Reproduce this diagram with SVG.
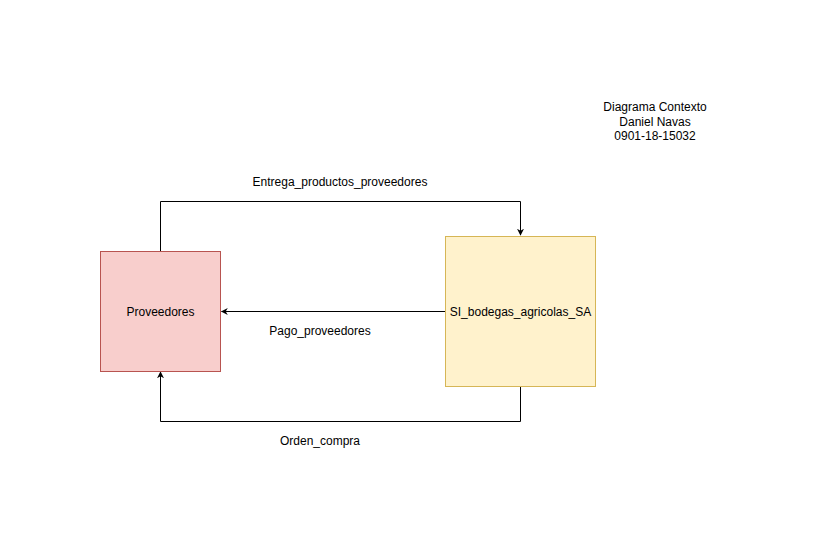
<svg xmlns="http://www.w3.org/2000/svg" width="831" height="552" viewBox="0 0 831 552">
<defs>
<style>
text{font-family:"Liberation Sans",Arial,Helvetica,sans-serif;font-size:12px;fill:#000;text-anchor:middle;dominant-baseline:central}
.edge{fill:none;stroke:#000;stroke-width:1}
</style>
<marker id="arr" viewBox="0 0 10 10" refX="9" refY="5" markerWidth="7" markerHeight="7" markerUnits="userSpaceOnUse" orient="auto">
<path d="M0,0 L10,5 L0,10 L3,5 Z" fill="#000"/>
</marker>
</defs>
<rect width="831" height="552" fill="#fff"/>
<g id="connectors">
<path class="edge" d="M160.5,251 V201.5 H520.5 V235" marker-end="url(#arr)"/>
<path class="edge" d="M445,311.5 H221.5" marker-end="url(#arr)"/>
<path class="edge" d="M520.5,386 V421.5 H160.5 V372" marker-end="url(#arr)"/>
</g>
<g id="edge-labels">
<text x="340" y="182">Entrega_productos_proveedores</text>
<text x="320" y="331">Pago_proveedores</text>
<text x="320" y="441">Orden_compra</text>
</g>
<g id="node-proveedores">
<rect x="100.5" y="251.5" width="120" height="120" fill="#f8cecc" stroke="#b85450"/>
<text x="160.5" y="311.5">Proveedores</text>
</g>
<g id="node-si">
<rect x="445.5" y="236.5" width="150" height="150" fill="#fff2cc" stroke="#d6b656"/>
<text x="520.5" y="311.5">SI_bodegas_agricolas_SA</text>
</g>
<g id="title">
<text x="655" y="107">Diagrama Contexto</text>
<text x="655" y="121.5">Daniel Navas</text>
<text x="655" y="136">0901-18-15032</text>
</g>
</svg>
